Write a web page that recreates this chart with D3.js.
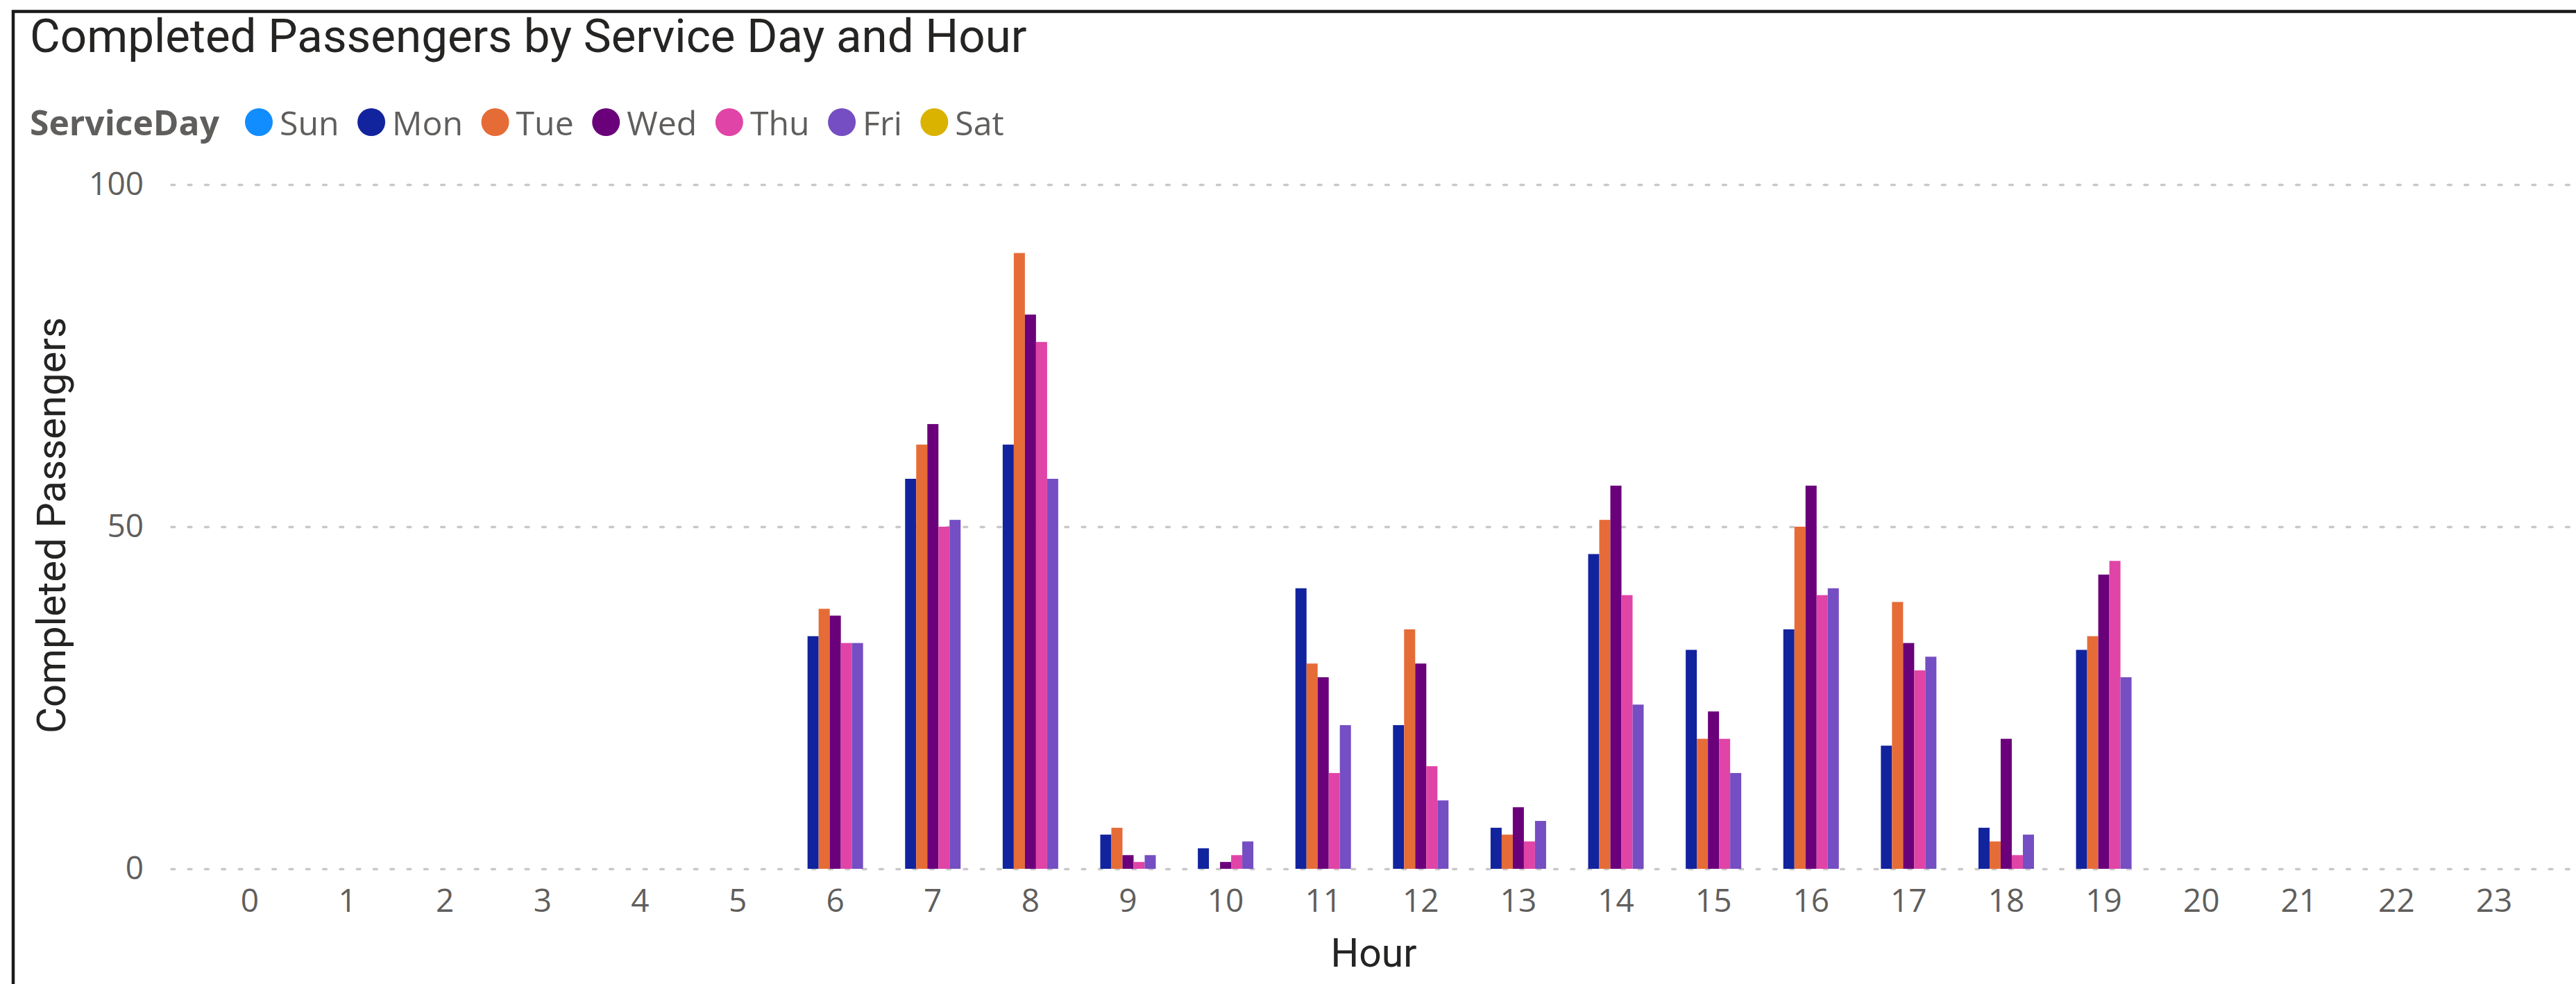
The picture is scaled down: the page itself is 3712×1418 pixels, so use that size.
<!DOCTYPE html>
<html>
<head>
<meta charset="utf-8">
<script src="https://cdn.jsdelivr.net/npm/d3@7"></script>
<style>
  html, body { margin: 0; padding: 0; background: #ffffff; overflow: hidden; }
  svg { display: block; }
</style>
</head>
<body>
<svg id="chart" width="3712" height="1418"></svg>
<script>
// ---------------- DATA ----------------
const hours = ["0","1","2","3","4","5","6","7","8","9","10","11","12","13","14","15","16","17","18","19","20","21","22","23"];
const legendDays = ["Sun","Mon","Tue","Wed","Thu","Fri","Sat"];
const dayColors  = ["#118DFF","#12239E","#E66C37","#6B007B","#E044A7","#744EC2","#D9B300"];
const seriesNames = ["Mon","Tue","Wed","Thu","Fri"];   // days that have data
const monValues = [0,0,0,0,0,0,34,57,62,5,3,41,21,6,46,32,35,18,6,32,0,0,0,0];
const tueValues = [0,0,0,0,0,0,38,62,90,6,0,30,35,5,51,19,50,39,4,34,0,0,0,0];
const wedValues = [0,0,0,0,0,0,37,65,81,2,1,28,30,9,56,23,56,33,19,43,0,0,0,0];
const thuValues = [0,0,0,0,0,0,33,50,77,1,2,14,15,4,40,19,40,29,2,45,0,0,0,0];
const friValues = [0,0,0,0,0,0,33,51,57,2,4,21,10,7,24,14,41,31,5,28,0,0,0,0];
const yTicks = [0, 50, 100];
const titleText = "Completed Passengers by Service Day and Hour";
const legendTitle = "ServiceDay";
const yTitle = "Completed Passengers";
const xTitle = "Hour";

// ---------------- SETUP ----------------
const W = 3712, H = 1418;
const svg = d3.select("#chart");
svg.append("rect").attr("width", W).attr("height", H).attr("fill", "#ffffff");

const titleFont = "Roboto, 'Noto Sans', 'Open Sans', sans-serif";
const labelFont = "'Open Sans', 'Noto Sans', sans-serif";

function fitWidth(sel, target) {
  const w = sel.node().getComputedTextLength();
  const fs = parseFloat(sel.attr("font-size"));
  if (w > 0) sel.attr("font-size", fs * target / w);
  return sel;
}

const colorOf = d3.scaleOrdinal().domain(legendDays).range(dayColors);
const valuesBySeries = { Mon: monValues, Tue: tueValues, Wed: wedValues, Thu: thuValues, Fri: friValues };

const plotLeft = 247, plotRight = W;
const y = d3.scaleLinear().domain([0, 100]).range([1252, 266]);
const x = d3.scaleBand().domain(hours).range([289.7, 3664.3]).paddingInner(0).paddingOuter(0);
const groupW = x.bandwidth() * 0.569;
const x1 = d3.scaleBand().domain(seriesNames).range([0, groupW]).padding(0);

// ---------------- FRAME ----------------
svg.append("path")
  .attr("d", `M19,${H + 10} V16.5 H${W + 10}`)
  .attr("fill", "none").attr("stroke", "#1a1a1a").attr("stroke-width", 4.5);

// ---------------- TITLE ----------------
const title = svg.append("text")
  .attr("x", 43).attr("y", 75)
  .attr("font-family", titleFont).attr("font-size", 56)
  .attr("fill", "#252423")
  .text(titleText);
fitWidth(title, 1437);

// ---------------- LEGEND ----------------
const legTitle = svg.append("text")
  .attr("x", 43).attr("y", 195)
  .attr("font-family", labelFont).attr("font-size", 50).attr("font-weight", 700)
  .attr("fill", "#605E5C")
  .text(legendTitle);
fitWidth(legTitle, 273);

const legendTargetWidths = 585; // total width of item labels in reference
const legG = svg.append("g");
const legTexts = legendDays.map(d => legG.append("text")
  .attr("font-family", labelFont).attr("font-size", 50).attr("fill", "#605E5C").text(d));
const totalW = d3.sum(legTexts, t => t.node().getComputedTextLength());
const legFs = 50 * legendTargetWidths / totalW;
legTexts.forEach(t => t.attr("font-size", legFs));
let cursor = 353;
legendDays.forEach((d, i) => {
  legG.append("circle").attr("cx", cursor + 20).attr("cy", 176).attr("r", 20).attr("fill", colorOf(d));
  legTexts[i].attr("x", cursor + 50).attr("y", 195);
  cursor = cursor + 50 + legTexts[i].node().getComputedTextLength() + 26.5;
});

// ---------------- Y AXIS + GRID ----------------
const yAxis = svg.append("g")
  .attr("transform", `translate(${plotLeft},0)`)
  .call(d3.axisLeft(y).tickValues(yTicks).tickSize(-(plotRight - plotLeft)).tickPadding(40).tickFormat(d3.format("d")));
yAxis.select(".domain").remove();
yAxis.selectAll(".tick line")
  .attr("stroke", "#C8C8C8").attr("stroke-width", 3.6)
  .attr("stroke-dasharray", "4.6,19.7").attr("stroke-linecap", "round");
yAxis.selectAll(".tick text")
  .attr("font-family", labelFont).attr("font-size", 46).attr("fill", "#605E5C");

// ---------------- BARS ----------------
const groups = svg.append("g").selectAll("g")
  .data(hours).join("g")
  .attr("transform", h => `translate(${x(h) + x.bandwidth() / 2 - groupW / 2},0)`);
groups.selectAll("rect")
  .data((h, i) => seriesNames.map(s => ({ s, v: valuesBySeries[s][i] })).filter(d => d.v > 0))
  .join("rect")
  .attr("x", d => x1(d.s))
  .attr("width", x1.bandwidth())
  .attr("y", d => y(d.v))
  .attr("height", d => y(0) - y(d.v))
  .attr("fill", d => colorOf(d.s));

// ---------------- X AXIS ----------------
const xAxis = svg.append("g")
  .attr("transform", `translate(0,${y(0)})`)
  .call(d3.axisBottom(x).tickSize(0).tickPadding(29));
xAxis.select(".domain").remove();
xAxis.selectAll(".tick text")
  .attr("font-family", labelFont).attr("font-size", 46).attr("fill", "#605E5C");

// ---------------- AXIS TITLES ----------------
const xt = svg.append("text")
  .attr("x", (plotLeft + plotRight) / 2).attr("y", 1393)
  .attr("text-anchor", "middle")
  .attr("font-family", titleFont).attr("font-size", 56).attr("fill", "#252423")
  .text(xTitle);
fitWidth(xt, 124);

const yt = svg.append("text")
  .attr("transform", "translate(94,757) rotate(-90)")
  .attr("text-anchor", "middle")
  .attr("font-family", titleFont).attr("font-size", 56).attr("fill", "#252423")
  .text(yTitle);
fitWidth(yt, 600);
</script>
</body>
</html>
